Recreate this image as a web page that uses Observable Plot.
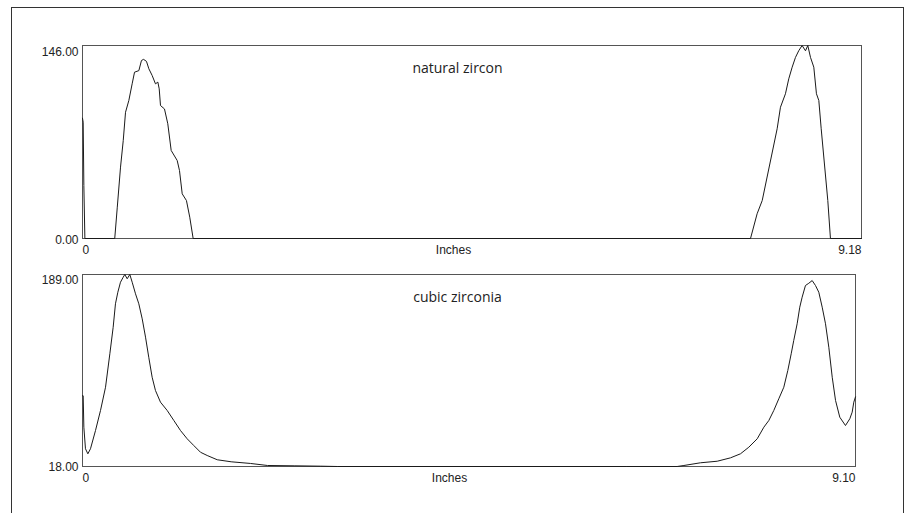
<!DOCTYPE html>
<html><head><meta charset="utf-8">
<script src="https://cdn.jsdelivr.net/npm/d3@7"></script>
<script src="https://cdn.jsdelivr.net/npm/@observablehq/plot@0.6"></script>
<style>
body{margin:0;background:#fff;overflow:hidden}
#wrap{position:relative;width:906px;height:513px;overflow:hidden;background:#fff}
#border{position:absolute;left:11px;top:7px;width:891px;height:600px;border:1px solid #333;z-index:2;pointer-events:none}
.panel{position:absolute;left:0;z-index:1}
</style></head><body>
<div id="wrap"><div id="border"></div><div id="p1" class="panel" style="top:0px"></div><div id="p2" class="panel" style="top:260px"></div></div>
<script>
// natural zircon (inches, counts)
const zirconX = [0, 0.008, 0.016, 0.028, 0.38, 0.41, 0.448, 0.48, 0.507, 0.546, 0.585, 0.613, 0.664, 0.695, 0.72, 0.754, 0.782, 0.821, 0.86, 0.888, 0.904, 0.919, 0.966, 1.005, 1.045, 1.116, 1.143, 1.175, 1.225, 1.264, 1.304, 7.872, 7.95, 8.01, 8.186, 8.225, 8.284, 8.323, 8.363, 8.402, 8.44, 8.48, 8.52, 8.547, 8.579, 8.618, 8.649, 8.677, 8.705, 8.783, 8.814, 9.18];
const zirconY = [91, 88, 40, 0, 0, 23.7, 54, 74, 95.5, 104.4, 117, 125.8, 127, 134.7, 135.5, 134, 128.4, 123.3, 117, 118.3, 113.2, 100.6, 98, 86.8, 66.6, 59, 51.4, 33.8, 28.7, 16.1, 0, 0, 18.7, 28.7, 83, 99.3, 109.5, 120.8, 129.6, 137, 142, 146, 142, 146, 137, 129.6, 109.5, 104.4, 83, 28.7, 0, 0];
// cubic zirconia
const cubicX = [0, 0.008, 0.016, 0.035, 0.063, 0.094, 0.153, 0.212, 0.271, 0.322, 0.361, 0.388, 0.416, 0.447, 0.479, 0.498, 0.526, 0.557, 0.585, 0.624, 0.663, 0.703, 0.742, 0.78, 0.82, 0.859, 0.918, 0.997, 1.075, 1.154, 1.232, 1.31, 1.389, 1.468, 1.586, 1.75, 1.978, 2.178, 2.5, 2.8, 3.0, 6.4, 7.0, 7.08, 7.275, 7.472, 7.628, 7.746, 7.844, 7.943, 8.021, 8.08, 8.138, 8.197, 8.256, 8.303, 8.343, 8.373, 8.413, 8.444, 8.472, 8.511, 8.55, 8.59, 8.629, 8.668, 8.708, 8.747, 8.786, 8.826, 8.865, 8.915, 8.982, 9.033, 9.061, 9.08, 9.1];
const cubicY = [81, 81, 53, 33.8, 29.3, 33.8, 50, 67.9, 88.6, 118.4, 142, 162.9, 173.2, 182.1, 186.6, 189, 185.2, 189, 182.1, 171.8, 162.9, 149.5, 133.2, 115.3, 97.5, 85.7, 75.3, 67.9, 59, 50, 42.7, 36.7, 30.7, 27.8, 24, 22.2, 20.7, 18.9, 18.6, 18.3, 18, 18, 18, 18.9, 21.3, 22.7, 25.7, 29.3, 35.2, 42.7, 53, 59, 67.9, 78.3, 88.6, 103.5, 118.4, 130.2, 145.1, 159.9, 168.8, 179.2, 181.2, 183.6, 179.2, 173.2, 159.9, 145.1, 124.2, 97.5, 76.8, 61.9, 54.5, 60.5, 66.4, 75.3, 80];

const titles = ["natural zircon", "cubic zirconia"];
const xMax = [9.18, 9.10];
const yRange = [[0, 146], [18, 189]];
const xLabel = "Inches";

function panel(xs, ys, title, xm, yr, opts) {
  const data = xs.map((x, i) => ({x, y: ys[i]}));
  const fmt = d3.format(".2f");
  const tfmt = d => d === 0 ? "0" : fmt(d);
  const ax = {tickSize: 0, fontSize: 12, label: null};
  return Plot.plot({
    width: 906, height: opts.height,
    marginLeft: 82, marginRight: opts.mr, marginTop: opts.mt, marginBottom: opts.mb,
    style: {fontFamily: "Liberation Sans, Arial, sans-serif", fontSize: "12px", color: "#222", background: "transparent"},
    x: {domain: [0, xm], label: null},
    y: {domain: yr, label: null},
    marks: [
      Plot.frame({stroke: "#555"}),
      Plot.line(data, {x: "x", y: "y", stroke: "#1a1a1a", strokeWidth: 1}),
      Plot.axisY([yr[1]], {...ax, tickPadding: 4, tickFormat: fmt, dy: opts.dyTop}),
      Plot.axisY([yr[0]], {...ax, tickPadding: 4, tickFormat: fmt, dy: opts.dyBot}),
      Plot.axisX([0], {...ax, tickPadding: 7, tickFormat: tfmt, textAnchor: "start"}),
      Plot.axisX([xm], {...ax, tickPadding: 7, tickFormat: fmt, textAnchor: "end"}),
      Plot.text([xLabel], {frameAnchor: "bottom", lineAnchor: "top", dy: 7, dx: opts.dxLabel, fontSize: 12, fill: "#222"}),
      Plot.text([title], {frameAnchor: "top", lineAnchor: "top", dy: 18, dx: opts.dxTitle, fontSize: 14, fontFamily: "Open Sans", fill: "#222"})
    ]
  });
}

document.getElementById("p1").append(panel(zirconX, zirconY, titles[0], xMax[0], yRange[0],
  {height: 260, mr: 45, mt: 45, mb: 22, dyTop: 7, dyBot: 2, dxLabel: -18.5, dxTitle: -14.5}));
document.getElementById("p2").append(panel(cubicX, cubicY, titles[1], xMax[1], yRange[1],
  {height: 236, mr: 51, mt: 14, mb: 30, dyTop: 6, dyBot: 1, dxLabel: -19.5, dxTitle: -11.5}));
</script>
</body></html>
